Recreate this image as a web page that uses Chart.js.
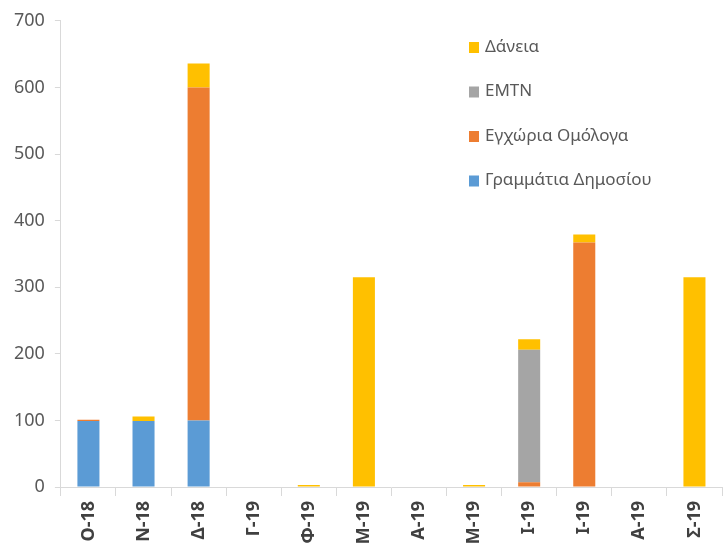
<!DOCTYPE html>
<html>
<head>
<meta charset="utf-8">
<script src="https://cdn.jsdelivr.net/npm/chart.js@4"></script>
<style>
  body { margin: 0; background: #fff; }
  #chartDiv { width: 726px; height: 552px; }
</style>
</head>
<body>
<div id="chartDiv"><canvas id="myChart"></canvas></div>
<script>
// Μήνες (άξονας x)
const categories = ["Ο-18", "Ν-18", "Δ-18", "Γ-19", "Φ-19", "Μ-19", "Α-19", "Μ-19", "Ι-19", "Ι-19", "Α-19", "Σ-19"];

// Τιμές ανά σειρά (από κάτω προς τα πάνω στη στοίβα)
const grammatia = [99, 99, 100, 0, 0, 0, 0, 0, 0, 0, 0, 0];
const omologa = [2, 0, 500, 0, 0, 0, 0, 0, 7, 367, 0, 0];
const emtn = [0, 0, 0, 0, 0, 0, 0, 0, 199, 0, 0, 0];
const daneia = [0, 7, 36, 0, 3, 315, 0, 3, 16, 12, 0, 315];

const yTicks = [0, 100, 200, 300, 400, 500, 600, 700];

const font = "'Noto Sans', sans-serif";

// Υπόμνημα μέσα στο γράφημα, πάνω δεξιά
const insideLegend = {
  id: "insideLegend",
  afterDraw(chart) {
    const ctx = chart.ctx;
    const sets = chart.data.datasets.slice().reverse();
    ctx.save();
    ctx.font = "17px " + font;
    ctx.textBaseline = "middle";
    sets.forEach((ds, i) => {
      const y = 47 + i * 44.5;
      ctx.fillStyle = ds.backgroundColor;
      ctx.fillRect(469, y - 5, 10, 11);
      ctx.fillStyle = "#595959";
      ctx.fillText(ds.label, 485, y);
    });
    ctx.restore();
  }
};

const ctx = document.getElementById("myChart");

new Chart(ctx, {
  type: "bar",
  data: {
    labels: categories,
    datasets: [
      { label: "Γραμμάτια Δημοσίου", data: grammatia, backgroundColor: "#5B9BD5" },
      { label: "Εγχώρια Ομόλογα", data: omologa, backgroundColor: "#ED7D31" },
      { label: "EMTN", data: emtn, backgroundColor: "#A5A5A5" },
      { label: "Δάνεια", data: daneia, backgroundColor: "#FFC000" },
    ],
  },
  options: {
    responsive: true,
    maintainAspectRatio: false,
    animation: false,
    layout: { padding: { top: 10, right: 4, left: 4, bottom: 0 } },
    datasets: { bar: { categoryPercentage: 1, barPercentage: 0.4 } },
    plugins: {
      legend: { display: false },
      tooltip: { enabled: false },
    },
    scales: {
      x: {
        stacked: true,
        afterFit: (axis) => { axis.height = 65; }, // οι ετικέτες κόβονται στο κάτω άκρο όπως στο πρωτότυπο
        grid: { offset: true, drawOnChartArea: false, tickLength: 9, color: "#d9d9d9" },
        border: { color: "#d9d9d9" },
        ticks: {
          minRotation: 90,
          maxRotation: 90,
          padding: 5,
          color: "#404040",
          font: { family: font, size: 18, weight: "bold" },
        },
      },
      y: {
        stacked: true,
        min: 0,
        max: 700,
        afterBuildTicks: (axis) => { axis.ticks = yTicks.map((v) => ({ value: v })); },
        grid: { drawOnChartArea: false, tickLength: 6, color: "#d9d9d9" },
        border: { color: "#d9d9d9" },
        ticks: {
          padding: 10,
          color: "#595959",
          font: { family: font, size: 18 },
        },
      },
    },
  },
  plugins: [insideLegend],
});
</script>
</body>
</html>
